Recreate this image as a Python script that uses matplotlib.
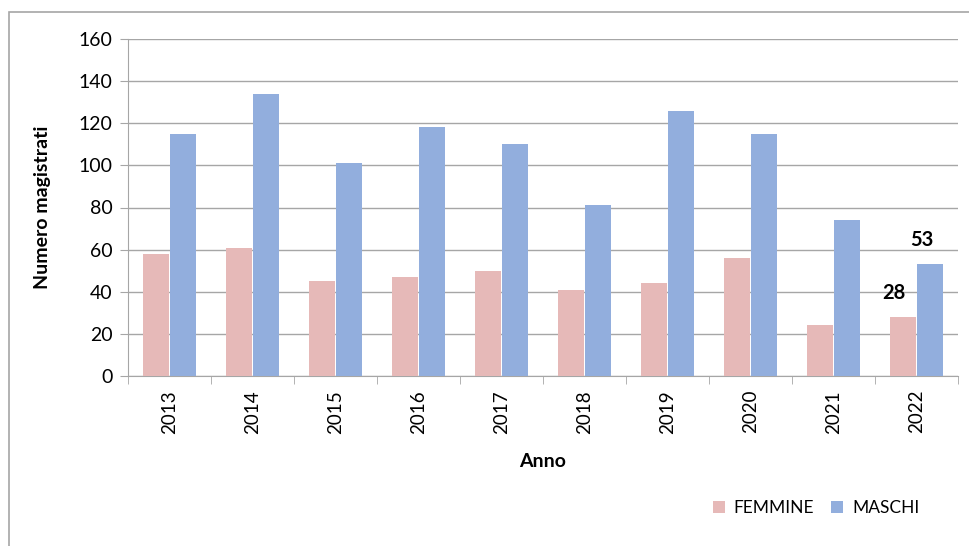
import matplotlib.pyplot as plt
import numpy as np
from matplotlib.patches import Rectangle

plt.rcParams['font.family'] = ['Lato', 'DejaVu Sans']

anni = ['2013', '2014', '2015', '2016', '2017', '2018', '2019', '2020', '2021', '2022']
femmine = [58, 61, 45, 47, 50, 41, 44, 56, 24, 28]
maschi = [115, 134, 101, 118, 110, 81, 126, 115, 74, 53]

fig = plt.figure(figsize=(9.69, 5.46), dpi=100)
# cornice grigia del grafico
fig.patches.append(Rectangle((9 / 969, -0.05), 1.1, 1.05 - 12 / 546,
                             transform=fig.transFigure, fill=False,
                             edgecolor='#a6a6a6', linewidth=1.2))
ax = fig.add_axes([128 / 969, 170 / 546, 830 / 969, 337 / 546])

x = np.arange(len(anni))
w = 0.31
ax.bar(x - w / 2 - 0.012, femmine, w, color='#E6B9B8', label='FEMMINE', zorder=3)
ax.bar(x + w / 2 + 0.012, maschi, w, color='#92AEDD', label='MASCHI', zorder=3)

# etichette solo per il 2022
ax.annotate(str(femmine[-1]), (x[-1] - w / 2 - 0.012, femmine[-1]), xytext=(-6, 13),
            textcoords='offset points', ha='center', fontsize=14.5, fontweight='bold')
ax.annotate(str(maschi[-1]), (x[-1] + w / 2 + 0.012, maschi[-1]), xytext=(-6, 13),
            textcoords='offset points', ha='center', fontsize=14.5, fontweight='bold')

ax.set_xlim(-0.5, len(anni) - 0.5)
ax.set_ylim(0, 160)
ax.set_yticks(range(0, 161, 20))
ax.yaxis.grid(True, color='#a6a6a6', linewidth=1, zorder=0)
ax.set_xticks(x)
ax.set_xticklabels(anni, rotation=90, fontsize=13.5)
ax.set_xticks(np.arange(-0.5, len(anni), 1), minor=True)
ax.tick_params(axis='x', which='major', length=0, pad=10)
ax.tick_params(axis='x', which='minor', length=6, color='#a6a6a6', direction='out')
ax.tick_params(axis='y', length=6, color='#a6a6a6', labelsize=14, pad=5)

for s in ['top', 'right']:
    ax.spines[s].set_visible(False)
ax.spines['left'].set_color('#a6a6a6')
ax.spines['bottom'].set_color('#a6a6a6')

ax.set_xlabel('Anno', fontsize=14, fontweight='bold', labelpad=14)
ax.set_ylabel('Numero magistrati', fontsize=14, fontweight='bold', labelpad=20)

fig.legend(loc='center', bbox_to_anchor=(816 / 969, 1 - 508 / 546), ncol=2, frameon=False,
           fontsize=12.5, handlelength=0.7, handleheight=0.7, columnspacing=1.0, handletextpad=0.5)

fig.savefig('out.png', dpi=100)
